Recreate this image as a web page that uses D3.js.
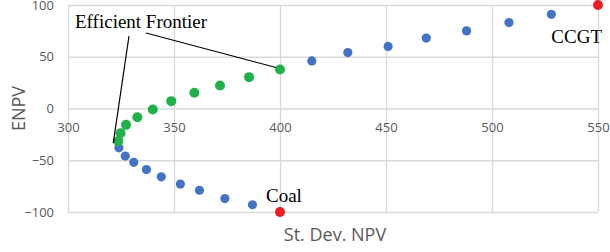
<!DOCTYPE html>
<html>
<head>
<meta charset="utf-8">
<script src="https://cdn.jsdelivr.net/npm/d3@7"></script>
<style>
  body { margin: 0; background: #fff; }
  svg { display: block; }
  .tick text { font-family: "Open Sans", "Noto Sans", sans-serif; font-size: 13px; fill: #595959; }
</style>
</head>
<body>
<div id="c1"></div>
<script>
// Data: [st. dev. NPV, ENPV]
var allPortfolios = [
  [324, -38], [327, -46], [331, -52], [337, -59], [344, -66], [353, -73],
  [362, -79], [374, -87], [387, -93],
  [415, 46], [432, 54], [451, 60], [469, 68], [488, 75], [508, 83], [528, 91]
];
var frontier = [
  [323.7, -31.5], [324.8, -23.8], [327.4, -15.8], [332.7, -8.4], [340, -1],
  [348.7, 7.1], [359.6, 15.2], [371.7, 22.2], [385.4, 30.3], [400, 37.7]
];
var endPoints = [
  { name: "Coal", x: 400, y: -100 },
  { name: "CCGT", x: 550, y: 100 }
];
var xTicks = [300, 350, 400, 450, 500, 550];
var yTicks = [-100, -50, 0, 50, 100];

var w = 610;
var h = 252;

var svg = d3.select("#c1").append("svg")
    .attr("width", w)
    .attr("height", h);

var x = d3.scaleLinear().domain([300, 550]).range([68, 598]);
var y = d3.scaleLinear().domain([-100, 100]).range([212, 5]);

// gridlines
svg.append("g").selectAll("line.h")
    .data(yTicks)
    .enter().append("line")
    .attr("x1", x(300)).attr("x2", x(550))
    .attr("y1", function (d) { return y(d) + 0.5; })
    .attr("y2", function (d) { return y(d) + 0.5; })
    .attr("stroke", "#d9d9d9").attr("stroke-width", 1.3);

svg.append("g").selectAll("line.v")
    .data(xTicks)
    .enter().append("line")
    .attr("x1", function (d) { return x(d) + 0.5; })
    .attr("x2", function (d) { return x(d) + 0.5; })
    .attr("y1", y(100)).attr("y2", y(-100))
    .attr("stroke", "#d9d9d9").attr("stroke-width", 1.3);

// axis labels
var yAxis = svg.append("g")
    .attr("transform", "translate(" + x(300) + ",0)")
    .call(d3.axisLeft(y).tickValues(yTicks).tickSize(0).tickPadding(14));
yAxis.select(".domain").remove();

var xAxis = svg.append("g")
    .attr("transform", "translate(0," + y(0) + ")")
    .call(d3.axisBottom(x).tickValues(xTicks).tickSize(0).tickPadding(14));
xAxis.select(".domain").remove();

svg.append("text")
    .attr("transform", "translate(19," + y(0) + ") rotate(-90)")
    .attr("text-anchor", "middle")
    .attr("dy", "0.35em")
    .style("font-family", "'Open Sans', 'Noto Sans', sans-serif")
    .style("font-size", "18px")
    .attr("fill", "#595959")
    .text("ENPV");

svg.append("text")
    .attr("x", 335).attr("y", 241)
    .attr("text-anchor", "middle")
    .style("font-family", "'Open Sans', 'Noto Sans', sans-serif")
    .style("font-size", "18px")
    .attr("fill", "#595959")
    .text("St. Dev. NPV");

// points
svg.append("g").selectAll("circle")
    .data(allPortfolios)
    .enter().append("circle")
    .attr("cx", function (d) { return x(d[0]); })
    .attr("cy", function (d) { return y(d[1]); })
    .attr("r", 4.6)
    .attr("fill", "#4472c4");

svg.append("g").selectAll("circle")
    .data(frontier)
    .enter().append("circle")
    .attr("cx", function (d) { return x(d[0]); })
    .attr("cy", function (d) { return y(d[1]); })
    .attr("r", 5)
    .attr("fill", "#21b14b");

svg.append("g").selectAll("circle")
    .data(endPoints)
    .enter().append("circle")
    .attr("cx", function (d) { return x(d.x); })
    .attr("cy", function (d) { return y(d.y); })
    .attr("r", 5)
    .attr("fill", "#ed1c24");

// annotations
var serif = "'Liberation Serif', 'Times New Roman', serif";

svg.append("text")
    .attr("x", x(400) - 14).attr("y", 202)
    .style("font-family", serif).style("font-size", "19px")
    .attr("fill", "#000")
    .text("Coal");

svg.append("text")
    .attr("x", x(550) + 4).attr("y", 43)
    .attr("text-anchor", "end")
    .style("font-family", serif).style("font-size", "19px")
    .attr("fill", "#000")
    .text("CCGT");

svg.append("text")
    .attr("x", 75).attr("y", 28)
    .style("font-family", serif).style("font-size", "19px")
    .attr("fill", "#000")
    .text("Efficient Frontier");

var first = frontier[0];
var last = frontier[frontier.length - 1];

svg.append("path")
    .attr("d", "M129,36 L" + (x(first[0]) - 5) + "," + (y(first[1]) + 2) + " l1,-4")
    .attr("fill", "none").attr("stroke", "#000").attr("stroke-width", 1.2);

svg.append("line")
    .attr("x1", 146).attr("y1", 33)
    .attr("x2", x(last[0]) - 4).attr("y2", y(last[1]) - 2)
    .attr("stroke", "#000").attr("stroke-width", 1.2);
</script>
</body>
</html>
